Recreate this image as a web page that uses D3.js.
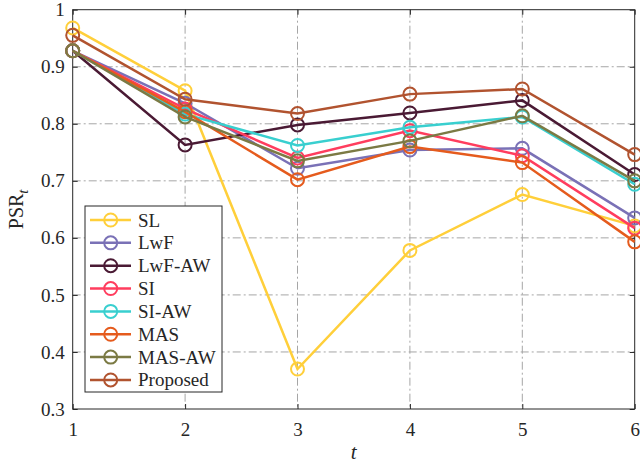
<!DOCTYPE html>
<html lang="en">
<head>
  <meta charset="UTF-8">
  <title>PSR</title>
  <script src="https://d3js.org/d3.v7.min.js"></script>
  <style>
    body { margin: 0; background: #fff; }
    text { font-family: "Liberation Serif", "DejaVu Serif", serif; fill: #262626; }
  </style>
</head>
<body>
  <script>
    var steps = [1, 2, 3, 4, 5, 6];
    var yTicks = [0.3, 0.4, 0.5, 0.6, 0.7, 0.8, 0.9, 1];

    var methods = ["SL", "LwF", "LwF-AW", "SI", "SI-AW", "MAS", "MAS-AW", "Proposed"];
    var colors  = ["#ffcf3a", "#7a71b6", "#4a1a34", "#ff3d5e", "#39cfcf", "#e55b1d", "#7b7a44", "#b1532f"];

    var sl       = [0.968, 0.858, 0.370, 0.578, 0.676, 0.621];
    var lwf      = [0.928, 0.836, 0.722, 0.754, 0.757, 0.635];
    var lwfAw    = [0.928, 0.763, 0.798, 0.819, 0.841, 0.711];
    var si       = [0.928, 0.826, 0.740, 0.788, 0.744, 0.617];
    var siAw     = [0.928, 0.817, 0.762, 0.794, 0.812, 0.694];
    var mas      = [0.928, 0.821, 0.702, 0.760, 0.732, 0.593];
    var masAw    = [0.928, 0.812, 0.735, 0.770, 0.814, 0.700];
    var proposed = [0.955, 0.843, 0.818, 0.852, 0.861, 0.746];

    var series = [sl, lwf, lwfAw, si, siAw, mas, masAw, proposed];

    var w = 640, h = 465;
    var pLeft = 72.7, pRight = 634.7, pTop = 9.7, pBottom = 409;

    var x = d3.scaleLinear().domain([1, 6]).range([pLeft, pRight]);
    var y = d3.scaleLinear().domain([0.3, 1]).range([pBottom, pTop]);

    var svg = d3.select("body").append("svg")
      .attr("width", w).attr("height", h);

    // grid
    var grid = svg.append("g")
      .attr("stroke", "#a6a6a6")
      .attr("stroke-width", 1)
      .attr("stroke-dasharray", "8,3,2,3");
    grid.selectAll("line.v").data(steps.slice(1, -1)).enter().append("line")
      .attr("x1", function(d) { return x(d); }).attr("x2", function(d) { return x(d); })
      .attr("y1", pTop).attr("y2", pBottom);
    grid.selectAll("line.h").data(yTicks.slice(1, -1)).enter().append("line")
      .attr("y1", function(d) { return y(d); }).attr("y2", function(d) { return y(d); })
      .attr("x1", pLeft).attr("x2", pRight);

    // axes
    var xAxis = d3.axisBottom(x).tickValues(steps).tickSize(-5).tickPadding(14).tickFormat(d3.format("d"));
    var yAxis = d3.axisLeft(y).tickValues(yTicks).tickSize(-5).tickPadding(8).tickFormat(function(d) { return d === 1 ? "1" : d3.format(".1f")(d); });
    var xTop = d3.axisTop(x).tickValues(steps).tickSize(-5).tickFormat("");
    var yRight = d3.axisRight(y).tickValues(yTicks).tickSize(-5).tickFormat("");

    function styleAxis(g) {
      g.select(".domain").remove();
      g.selectAll(".tick line").attr("stroke", "#262626");
      g.selectAll("text").attr("font-size", 19).attr("fill", "#262626");
    }

    svg.append("g").attr("transform", "translate(0," + pBottom + ")").call(xAxis).call(styleAxis);
    svg.append("g").attr("transform", "translate(" + pLeft + ",0)").call(yAxis).call(styleAxis);
    svg.append("g").attr("transform", "translate(0," + pTop + ")").call(xTop).call(styleAxis);
    svg.append("g").attr("transform", "translate(" + pRight + ",0)").call(yRight).call(styleAxis);

    svg.append("rect")
      .attr("x", pLeft).attr("y", pTop)
      .attr("width", pRight - pLeft).attr("height", pBottom - pTop)
      .attr("fill", "none").attr("stroke", "#262626").attr("stroke-width", 1);

    // lines
    var line = d3.line()
      .x(function(d, i) { return x(steps[i]); })
      .y(function(d) { return y(d); });

    series.forEach(function(s, k) {
      var g = svg.append("g");
      g.append("path").datum(s)
        .attr("d", line)
        .attr("fill", "none")
        .attr("stroke", colors[k])
        .attr("stroke-width", 2.5);
      g.selectAll("circle").data(s).enter().append("circle")
        .attr("cx", function(d, i) { return x(steps[i]); })
        .attr("cy", function(d) { return y(d); })
        .attr("r", 6.5)
        .attr("fill", "none")
        .attr("stroke", colors[k])
        .attr("stroke-width", 2);
    });

    // legend
    var legend = svg.append("g");
    legend.append("rect")
      .attr("x", 85).attr("y", 206)
      .attr("width", 137).attr("height", 186)
      .attr("fill", "#fff").attr("stroke", "#262626").attr("stroke-width", 1);

    var item = legend.selectAll("g.item").data(methods).enter().append("g")
      .attr("transform", function(d, i) { return "translate(0," + (220 + i * 22.85) + ")"; });
    item.append("line")
      .attr("x1", 90).attr("x2", 131).attr("y1", 0).attr("y2", 0)
      .attr("stroke", function(d, i) { return colors[i]; })
      .attr("stroke-width", 2.5);
    item.append("circle")
      .attr("cx", 110.7).attr("cy", 0).attr("r", 6.5)
      .attr("fill", "none")
      .attr("stroke", function(d, i) { return colors[i]; })
      .attr("stroke-width", 2);
    item.append("text")
      .attr("x", 138).attr("y", 6.5)
      .attr("font-size", 19)
      .text(function(d) { return d; });

    // axis labels
    svg.append("text")
      .attr("x", x(3.5)).attr("y", 459)
      .attr("text-anchor", "middle")
      .attr("font-size", 21)
      .attr("font-style", "italic")
      .text("t");

    var yl = svg.append("text")
      .attr("transform", "translate(23," + ((pTop + pBottom) / 2) + ") rotate(-90)")
      .attr("text-anchor", "middle")
      .attr("font-size", 20);
    yl.append("tspan").text("PSR");
    yl.append("tspan").attr("font-style", "italic").attr("font-size", 15).attr("dy", 5).text("t");
  </script>
</body>
</html>
